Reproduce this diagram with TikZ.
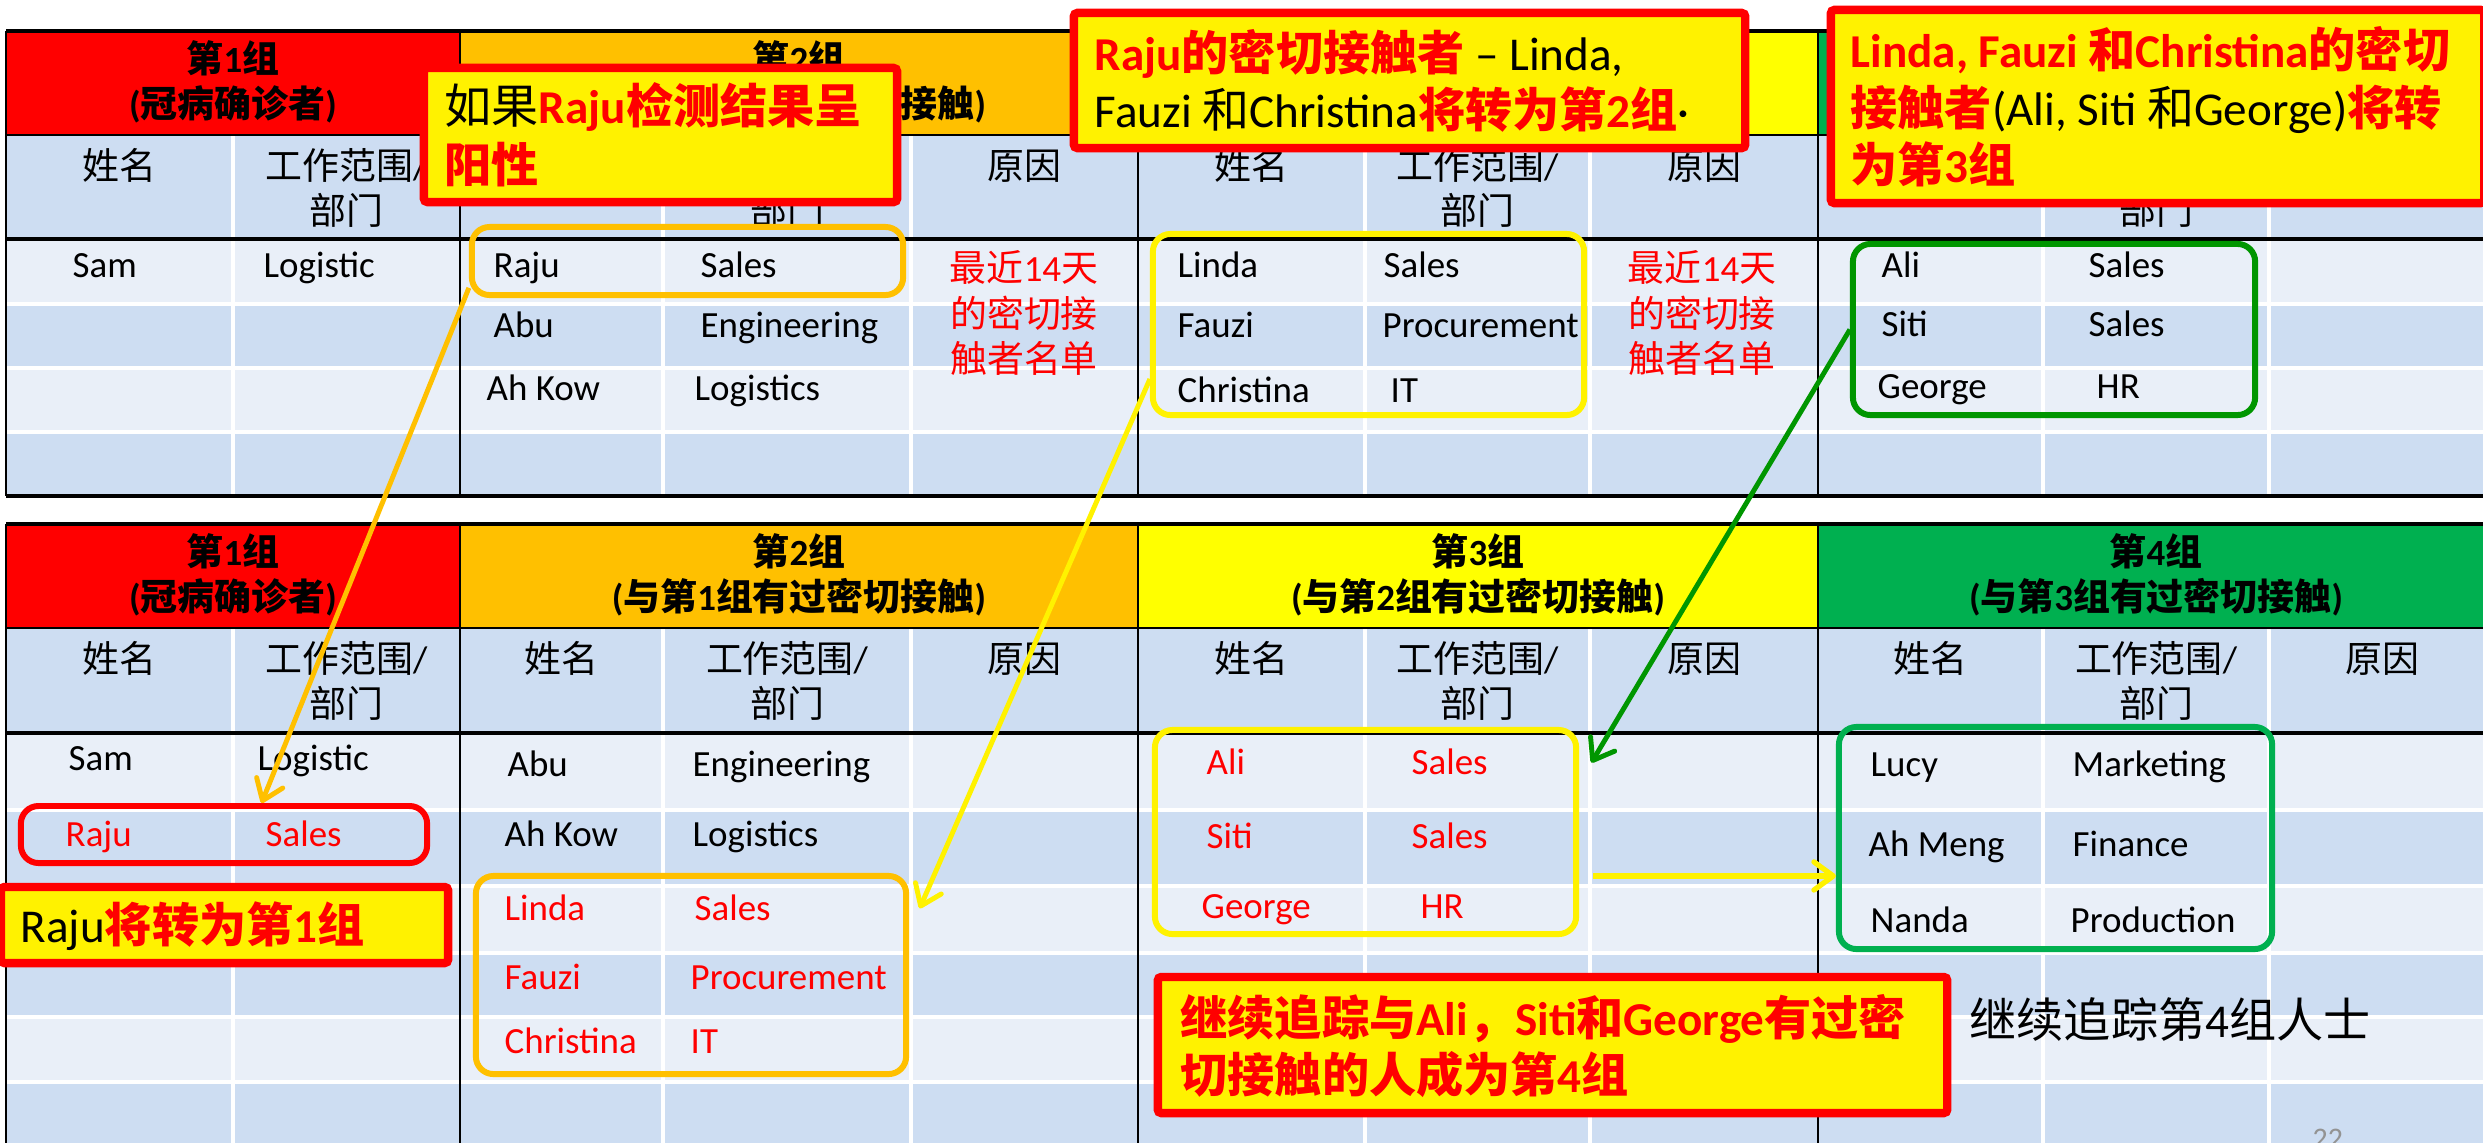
\documentclass[tikz,border=0pt]{standalone}
\usepackage{fontspec}
\setmainfont{Carlito}
\newfontfamily\cjkfont{Noto Sans CJK SC}
\usetikzlibrary{arrows.meta}

\definecolor{hdRed}{RGB}{255,0,0}
\definecolor{hdOrange}{RGB}{255,192,0}
\definecolor{hdYellow}{RGB}{255,255,0}
\definecolor{hdGreen}{RGB}{0,176,80}
\definecolor{rowLight}{RGB}{233,239,248}
\definecolor{rowDark}{RGB}{205,221,242}
\definecolor{boxGreen}{RGB}{0,150,0}

\newcommand\zh[1]{{\cjkfont #1}}
\newcommand\redb[1]{{\color{red}\bfseries #1}}

\tikzset{
  cell/.style={inner sep=0pt, anchor=base west, font=\fontsize{10.5}{12}\selectfont},
  ctr/.style={cell, anchor=base},
  hdr/.style={ctr, font=\fontsize{10.5}{12}\selectfont\bfseries},
  hot/.style={text=red},
  note/.style={inner sep=0pt, anchor=base west, font=\fontsize{13.4}{16}\selectfont},
  hl/.style={draw=#1, line width=1.7pt, rounded corners=5pt, inner sep=0pt},
  callout/.style={fill=yellow, draw=red, line width=2.4pt, rounded corners=1pt, inner sep=0pt},
  link/.style={line width=1.4pt, -{Straight Barb[length=5.5pt, width=8pt, round]}}
}

\begin{document}
\begin{tikzpicture}[x=0.01cm, y=-0.01cm]
  \useasboundingbox (0,0) rectangle (2483,1142);

  % top table
  \fill[hdRed] (6,31) rectangle (460,135);
  \fill[hdOrange] (460,31) rectangle (1138,135);
  \fill[hdYellow] (1138,31) rectangle (1818,135);
  \fill[hdGreen] (1818,31) rectangle (2495,135);
  \fill[rowDark] (6,135) rectangle (2495,239);
  \fill[rowLight] (6,239) rectangle (2495,304);
  \fill[rowDark] (6,304) rectangle (2495,368);
  \fill[rowLight] (6,368) rectangle (2495,432);
  \fill[rowDark] (6,432) rectangle (2495,496);
  \foreach \x in {233,663,911,1365,1590,2043,2269}
    \draw[white, line width=1pt] (\x,135) -- (\x,496);
  \foreach \y in {304,368,432}
    \draw[white, line width=1.2pt] (6,\y) -- (2495,\y);
  \foreach \x in {6,460,1138,1818}
    \draw[line width=0.8pt] (\x,31) -- (\x,496);
  \draw[line width=1pt] (6,31) -- (2495,31);
  \draw[line width=0.6pt] (6,135) -- (2495,135);
  \draw[line width=1pt] (6,239) -- (2495,239);
  \draw[line width=1pt] (6,496) -- (2495,496);

  % bottom table
  \fill[hdRed] (6,524) rectangle (460,628);
  \fill[hdOrange] (460,524) rectangle (1138,628);
  \fill[hdYellow] (1138,524) rectangle (1818,628);
  \fill[hdGreen] (1818,524) rectangle (2495,628);
  \fill[rowDark] (6,628) rectangle (2495,733);
  \fill[rowLight] (6,733) rectangle (2495,810);
  \fill[rowDark] (6,810) rectangle (2495,886);
  \fill[rowLight] (6,886) rectangle (2495,953);
  \fill[rowDark] (6,953) rectangle (2495,1017);
  \fill[rowLight] (6,1017) rectangle (2495,1082);
  \fill[rowDark] (6,1082) rectangle (2495,1150);
  \foreach \x in {233,663,911,1365,1590,2043,2269}
    \draw[white, line width=1pt] (\x,628) -- (\x,1150);
  \foreach \y in {810,886,953,1017,1082}
    \draw[white, line width=1.2pt] (6,\y) -- (2495,\y);
  \foreach \x in {6,460,1138,1818}
    \draw[line width=0.8pt] (\x,524) -- (\x,1150);
  \draw[line width=1pt] (6,524) -- (2495,524);
  \draw[line width=0.6pt] (6,628) -- (2495,628);
  \draw[line width=1pt] (6,733) -- (2495,733);

  % top table texts
  \node[hdr] (tG1a) at (233,72) {\zh{第}1\zh{组}};
  \node[hdr] (tG1b) at (233,117) {(\zh{冠病确诊者})};
  \node[hdr] (tG2a) at (799,72) {\zh{第}2\zh{组}};
  \node[hdr] (tG2b) at (799,117) {(\zh{与第}1\zh{组有过密切接触})};
  \node[hdr] (tG3a) at (1478,72) {\zh{第}3\zh{组}};
  \node[hdr] (tG3b) at (1478,117) {(\zh{与第}2\zh{组有过密切接触})};
  \node[hdr] (tG4a) at (2156,72) {\zh{第}4\zh{组}};
  \node[hdr] (tG4b) at (2156,117) {(\zh{与第}3\zh{组有过密切接触})};

  \node[ctr] (tN1) at (119.5,179) {\zh{姓名}};
  \node[ctr] (tD1a) at (346.5,179) {\zh{工作范围}/};
  \node[ctr] (tD1b) at (346.5,224) {\zh{部门}};
  \node[ctr] (tN2) at (561.5,179) {\zh{姓名}};
  \node[ctr] (tD2a) at (787,179) {\zh{工作范围}/};
  \node[ctr] (tD2b) at (787,224) {\zh{部门}};
  \node[ctr] (tR2) at (1024.5,179) {\zh{原因}};
  \node[ctr] (tN3) at (1251.5,179) {\zh{姓名}};
  \node[ctr] (tD3a) at (1477.5,179) {\zh{工作范围}/};
  \node[ctr] (tD3b) at (1477.5,224) {\zh{部门}};
  \node[ctr] (tR3) at (1704,179) {\zh{原因}};
  \node[ctr] (tN4) at (1930.5,179) {\zh{姓名}};
  \node[ctr] (tD4a) at (2156,179) {\zh{工作范围}/};
  \node[ctr] (tD4b) at (2156,224) {\zh{部门}};
  \node[ctr] (tR4) at (2382,179) {\zh{原因}};

  \node[cell] (tSam) at (72,277) {Sam};
  \node[cell] (tSamD) at (263,277) {Logistic};
  \node[cell] (tRaju) at (493,277) {Raju};
  \node[cell] (tRajuD) at (700,277) {Sales};
  \node[cell] (tAbu) at (493,337) {Abu};
  \node[cell] (tAbuD) at (700,337) {Engineering};
  \node[cell] (tAhKow) at (486,400) {Ah Kow};
  \node[cell] (tAhKowD) at (694,400) {Logistics};
  \node[ctr, hot] (tWhy2a) at (1024,281) {\zh{最近}14\zh{天}};
  \node[ctr, hot] (tWhy2b) at (1024,327) {\zh{的密切接}};
  \node[ctr, hot] (tWhy2c) at (1024,372) {\zh{触者名单}};
  \node[cell] (tLinda) at (1177,277) {Linda};
  \node[cell] (tLindaD) at (1383,277) {Sales};
  \node[cell] (tFauzi) at (1177,337) {Fauzi};
  \node[cell] (tFauziD) at (1382,337) {Procurement};
  \node[cell] (tChris) at (1177,402) {Christina};
  \node[cell] (tChrisD) at (1390,402) {IT};
  \node[ctr, hot] (tWhy3a) at (1702,281) {\zh{最近}14\zh{天}};
  \node[ctr, hot] (tWhy3b) at (1702,327) {\zh{的密切接}};
  \node[ctr, hot] (tWhy3c) at (1702,372) {\zh{触者名单}};
  \node[cell] (tAli) at (1881,277) {Ali};
  \node[cell] (tAliD) at (2088,277) {Sales};
  \node[cell] (tSiti) at (1881,336) {Siti};
  \node[cell] (tSitiD) at (2088,336) {Sales};
  \node[cell] (tGeorge) at (1877,398) {George};
  \node[cell] (tGeorgeD) at (2096,398) {HR};

  % bottom table texts
  \node[hdr] (bG1a) at (233,565) {\zh{第}1\zh{组}};
  \node[hdr] (bG1b) at (233,610) {(\zh{冠病确诊者})};
  \node[hdr] (bG2a) at (799,565) {\zh{第}2\zh{组}};
  \node[hdr] (bG2b) at (799,610) {(\zh{与第}1\zh{组有过密切接触})};
  \node[hdr] (bG3a) at (1478,565) {\zh{第}3\zh{组}};
  \node[hdr] (bG3b) at (1478,610) {(\zh{与第}2\zh{组有过密切接触})};
  \node[hdr] (bG4a) at (2156,565) {\zh{第}4\zh{组}};
  \node[hdr] (bG4b) at (2156,610) {(\zh{与第}3\zh{组有过密切接触})};

  \node[ctr] (bN1) at (119.5,672) {\zh{姓名}};
  \node[ctr] (bD1a) at (346.5,672) {\zh{工作范围}/};
  \node[ctr] (bD1b) at (346.5,717) {\zh{部门}};
  \node[ctr] (bN2) at (561.5,672) {\zh{姓名}};
  \node[ctr] (bD2a) at (787,672) {\zh{工作范围}/};
  \node[ctr] (bD2b) at (787,717) {\zh{部门}};
  \node[ctr] (bR2) at (1024.5,672) {\zh{原因}};
  \node[ctr] (bN3) at (1251.5,672) {\zh{姓名}};
  \node[ctr] (bD3a) at (1477.5,672) {\zh{工作范围}/};
  \node[ctr] (bD3b) at (1477.5,717) {\zh{部门}};
  \node[ctr] (bR3) at (1704,672) {\zh{原因}};
  \node[ctr] (bN4) at (1930.5,672) {\zh{姓名}};
  \node[ctr] (bD4a) at (2156,672) {\zh{工作范围}/};
  \node[ctr] (bD4b) at (2156,717) {\zh{部门}};
  \node[ctr] (bR4) at (2382,672) {\zh{原因}};

  \node[cell] (bSam) at (68,770) {Sam};
  \node[cell] (bSamD) at (257,770) {Logistic};
  \node[cell, hot] (bRaju) at (65,846) {Raju};
  \node[cell, hot] (bRajuD) at (265,846) {Sales};
  \node[cell] (bAbu) at (507,776) {Abu};
  \node[cell] (bAbuD) at (692,776) {Engineering};
  \node[cell] (bAhKow) at (504,846) {Ah Kow};
  \node[cell] (bAhKowD) at (692,846) {Logistics};
  \node[cell, hot] (bLinda) at (504,920) {Linda};
  \node[cell, hot] (bLindaD) at (694,920) {Sales};
  \node[cell, hot] (bFauzi) at (504,989) {Fauzi};
  \node[cell, hot] (bFauziD) at (690,989) {Procurement};
  \node[cell, hot] (bChris) at (504,1053) {Christina};
  \node[cell, hot] (bChrisD) at (690,1053) {IT};
  \node[cell, hot] (bAli) at (1206,774) {Ali};
  \node[cell, hot] (bAliD) at (1411,774) {Sales};
  \node[cell, hot] (bSiti) at (1206,848) {Siti};
  \node[cell, hot] (bSitiD) at (1411,848) {Sales};
  \node[cell, hot] (bGeorge) at (1201,918) {George};
  \node[cell, hot] (bGeorgeD) at (1420,918) {HR};
  \node[cell] (bLucy) at (1870,776) {Lucy};
  \node[cell] (bLucyD) at (2072,776) {Marketing};
  \node[cell] (bAhMeng) at (1868,856) {Ah Meng};
  \node[cell] (bAhMengD) at (2072,856) {Finance};
  \node[cell] (bNanda) at (1870,932) {Nanda};
  \node[cell] (bNandaD) at (2070,932) {Production};

  % highlight boxes
  \node[hl=hdOrange, minimum width=4.31cm, minimum height=0.68cm] (oTop) at (687.5,261) {};
  \node[hl=yellow, minimum width=4.31cm, minimum height=1.81cm] (yTop) at (1368.5,324.5) {};
  \node[hl=boxGreen, minimum width=4.02cm, minimum height=1.71cm] (gTop) at (2054,329.5) {};
  \node[hl=red, minimum width=4.06cm, minimum height=0.57cm] (rBot) at (224,834.5) {};
  \node[hl=hdOrange, minimum width=4.30cm, minimum height=1.98cm] (oBot) at (691,975) {};
  \node[hl=yellow, minimum width=4.21cm, minimum height=2.04cm] (yBot) at (1365.5,832) {};
  \node[hl=hdGreen, minimum width=4.33cm, minimum height=2.22cm] (gBot) at (2055.5,838) {};

  % arrows
  \draw[link, hdOrange] (oTop.187) -- (rBot.40);
  \draw[link, yellow] (yTop.194) -- ([xshift=3pt]oBot.17);
  \draw[link, boxGreen] (gTop.west) -- ([xshift=3.5pt]yBot.18);
  \coordinate (hStart) at ([xshift=4pt,yshift=-12.5pt]yBot.east);
  \draw[link, yellow, line width=1.5pt] (hStart) -- (hStart -| gBot.west);

  % callouts
  \node[callout, minimum width=4.73cm, minimum height=1.34cm] (c1) at (660.5,135) {};
  \node[note] (c1a) at (444,123) {\zh{如果}\redb{Raju\zh{检测结果呈}}};
  \node[note] (c1b) at (444,182) {\redb{\zh{阳性}}};

  \node[callout, minimum width=6.71cm, minimum height=1.35cm] (c2) at (1409.5,80.5) {};
  \node[note] (c2a) at (1094,70) {\redb{Raju\zh{的密切接触者}} – Linda,};
  \node[note] (c2b) at (1094,127) {Fauzi \zh{和}Christina\redb{\zh{将转为第}2\zh{组}}·};

  \node[callout, minimum width=6.53cm, minimum height=1.93cm] (c3) at (2157.5,106.5) {};
  \node[note] (c3a) at (1850,67) {\redb{Linda, Fauzi \zh{和}Christina\zh{的密切}}};
  \node[note] (c3b) at (1850,125) {\redb{\zh{接触者}}(Ali, Siti \zh{和}George)\redb{\zh{将转}}};
  \node[note] (c3c) at (1850,182) {\redb{\zh{为第}3\zh{组}}};

  \node[callout, minimum width=4.47cm, minimum height=0.76cm] (c4) at (224.5,925) {};
  \node[note] (c4a) at (20,942) {Raju\redb{\zh{将转为第}1\zh{组}}};

  \node[callout, minimum width=7.89cm, minimum height=1.36cm] (c5) at (1552.5,1045) {};
  \node[note] (c5a) at (1180,1035) {\redb{\zh{继续追踪与}Ali\zh{，}Siti\zh{和}George\zh{有过密}}};
  \node[note] (c5b) at (1180,1092) {\redb{\zh{切接触的人成为第}4\zh{组}}};

  \node[note] (nextStep) at (1969,1037) {\zh{继续追踪第}4\zh{组人士}};
  \node[cell, text=gray!85, font=\fontsize{8.5}{10}\selectfont] (pageNo) at (2312,1148) {22};
\end{tikzpicture}
\end{document}
